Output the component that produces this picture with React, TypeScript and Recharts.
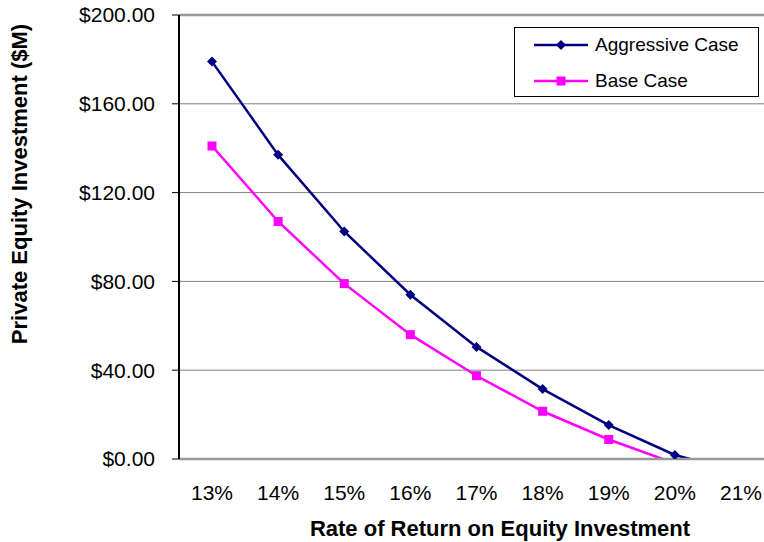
import React from 'react'
import { LineChart, Line, XAxis, YAxis, CartesianGrid, ReferenceLine } from 'recharts'

const rates = ['13%', '14%', '15%', '16%', '17%', '18%', '19%', '20%', '21%']
const aggressiveCase = [179, 137, 102.5, 74, 50.5, 31.5, 15.3, 1.8, -6]
const baseCase = [141, 107, 79, 56, 37.5, 21.5, 8.8, -2, -10]
const yTicks = [0, 40, 80, 120, 160, 200]

const FONT = '"Liberation Sans", Arial, Helvetica, sans-serif'
const NAVY = '#000080'
const MAGENTA = '#FF00FF'

const data = rates.map((rate, i) => ({
  rate,
  aggressive: aggressiveCase[i],
  base: baseCase[i],
}))

const series = [
  { key: 'aggressive', name: 'Aggressive Case', color: NAVY, marker: 'diamond' },
  { key: 'base', name: 'Base Case', color: MAGENTA, marker: 'square' },
]

function markerPath(kind: string, cx: number, cy: number) {
  if (kind === 'diamond') {
    const r = 5
    return `M${cx},${cy - r}L${cx + r},${cy}L${cx},${cy + r}L${cx - r},${cy}Z`
  }
  const h = 4.5
  return `M${cx - h},${cy - h}h${2 * h}v${2 * h}h${-2 * h}Z`
}

const makeDot = (kind: string, color: string) => (props: any) => {
  const { cx, cy, index } = props
  if (cx == null || cy == null) return <g key={`${kind}-${index}`} />
  return <path key={`${kind}-${index}`} d={markerPath(kind, cx, cy)} fill={color} />
}

const fmtMoney = (v: number) => `$${v.toFixed(2)}`

export default function App() {
  return (
    <div
      style={{
        position: 'absolute',
        left: 0,
        top: 0,
        width: 764,
        height: 542,
        overflow: 'hidden',
        background: '#fff',
        fontFamily: FONT,
      }}
    >
      <LineChart
        width={800}
        height={542}
        data={data}
        margin={{ top: 15, right: 26, left: 0, bottom: 0 }}
      >
        <CartesianGrid vertical={false} stroke="#808080" strokeWidth={1} />
        <XAxis
          dataKey="rate"
          height={83}
          padding={{ left: 33, right: 33 }}
          axisLine={{ stroke: '#999999', strokeWidth: 2.5 }}
          tickLine={false}
          tickSize={0}
          tickMargin={26}
          tick={{ fontSize: 21, fill: '#000', fontFamily: FONT }}
          interval={0}
        />
        <YAxis
          width={179}
          domain={[0, 200]}
          ticks={yTicks}
          allowDataOverflow
          axisLine={{ stroke: '#000', strokeWidth: 2 }}
          tickLine={{ stroke: '#000', strokeWidth: 1 }}
          tickSize={7}
          tickMargin={17}
          tickFormatter={fmtMoney}
          tick={{ fontSize: 21, fill: '#000', fontFamily: FONT }}
        />
        <ReferenceLine y={200} stroke="#999999" strokeWidth={2.5} />
        {series.map((s) => (
          <Line
            key={s.key}
            type="linear"
            dataKey={s.key}
            name={s.name}
            stroke={s.color}
            strokeWidth={2.5}
            dot={makeDot(s.marker, s.color)}
            activeDot={false}
            isAnimationActive={false}
          />
        ))}
      </LineChart>

      <div
        style={{
          position: 'absolute',
          left: 514,
          top: 27,
          width: 245,
          height: 70,
          boxSizing: 'border-box',
          border: '1px solid #000',
          background: '#fff',
        }}
      >
        {series.map((s, i) => (
          <div
            key={s.key}
            style={{
              position: 'absolute',
              left: 18,
              top: 6 + i * 36,
              height: 22,
              display: 'flex',
              alignItems: 'center',
              whiteSpace: 'nowrap',
            }}
          >
            <svg width={56} height={12} style={{ marginRight: 6 }}>
              <line x1={1} y1={6} x2={55} y2={6} stroke={s.color} strokeWidth={2.5} />
              <path d={markerPath(s.marker, 28, 6)} fill={s.color} />
            </svg>
            <span style={{ fontSize: 19, color: '#000' }}>{s.name}</span>
          </div>
        ))}
      </div>

      <div
        style={{
          position: 'absolute',
          left: 500,
          top: 529,
          transform: 'translate(-50%, -50%)',
          fontSize: 22,
          fontWeight: 'bold',
          whiteSpace: 'nowrap',
          color: '#000',
        }}
      >
        Rate of Return on Equity Investment
      </div>
      <div
        style={{
          position: 'absolute',
          left: 20,
          top: 184,
          transform: 'translate(-50%, -50%) rotate(-90deg)',
          fontSize: 22,
          fontWeight: 'bold',
          whiteSpace: 'nowrap',
          color: '#000',
        }}
      >
        Private Equity Investment ($M)
      </div>
    </div>
  )
}
